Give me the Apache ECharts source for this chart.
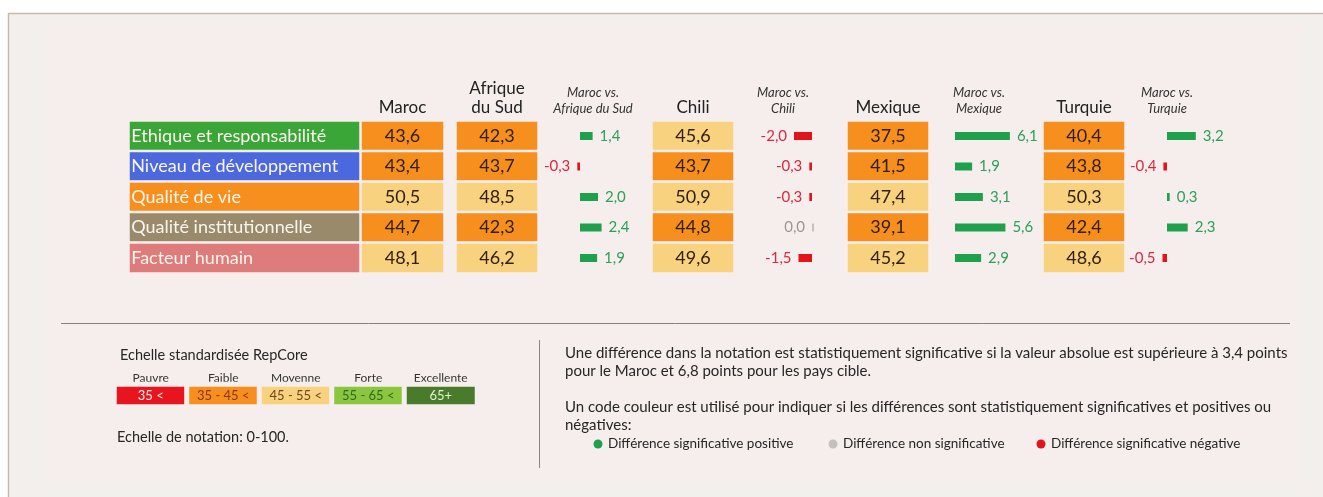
<!DOCTYPE html>
<html>
<head>
<meta charset="utf-8">
<script src="https://cdn.jsdelivr.net/npm/echarts@6/dist/echarts.min.js"></script>
<style>
  html, body { margin: 0; padding: 0; background: #fff; }
  #main { width: 1323px; height: 497px; }
</style>
</head>
<body>
<div id="main"></div>
<script>
// data
var metrics = ['Ethique et responsabilité', 'Niveau de développement', 'Qualité de vie', 'Qualité institutionnelle', 'Facteur humain'];
var countries = ['Maroc', 'Afrique du Sud', 'Chili', 'Mexique', 'Turquie'];
var maroc = [43.6, 43.4, 50.5, 44.7, 48.1];
var afriqueDuSud = [42.3, 43.7, 48.5, 42.3, 46.2];
var chili = [45.6, 43.7, 50.9, 44.8, 49.6];
var mexique = [37.5, 41.5, 47.4, 39.1, 45.2];
var turquie = [40.4, 43.8, 50.3, 42.4, 48.6];
var diffAfriqueDuSud = [1.4, -0.3, 2.0, 2.4, 1.9];
var diffChili = [-2.0, -0.3, -0.3, 0.0, -1.5];
var diffMexique = [6.1, 1.9, 3.1, 5.6, 2.9];
var diffTurquie = [3.2, -0.4, 0.3, 2.3, -0.5];
var scaleLabels = ['Pauvre', 'Faible', 'Moyenne', 'Forte', 'Excellente'];
var scaleRanges = ['35 <', '35 - 45 <', '45 - 55 <', '55 - 65 <', '65+'];
var scaleMins = [0, 35, 45, 55, 65];

// styles
var metricColors = ['#3aa638', '#4c68df', '#f78f1e', '#9a8a6c', '#de7b7b'];
var scaleTextColors = ['#fff4f0', '#8a3510', '#6e4a14', '#2f6a1c', '#e2f3d2'];
var font = 'Lato, "Open Sans", sans-serif';
var bg = '#f6eeed';
var green = '#1fa04d', red = '#e3131c', grey = '#c4c0be';

var chartDom = document.getElementById('main');
var myChart = echarts.init(chartDom);

var scores = [maroc, afriqueDuSud, chili, mexique, turquie];
var diffs = [diffAfriqueDuSud, diffChili, diffMexique, diffTurquie];

var rowTop = 120.75, rowHeight = 152.5;
var countryVis = [[362, 443], [457, 537], [653, 733], [848, 928], [1044, 1124]];
var diffZero = [580, 812, 955, 1167];
var diffHeaderX = [593, 783, 979, 1167];
var unitPx = 9, diffMin = -4, diffMax = 7;

function fr(v) { return v.toFixed(1).replace('.', ','); }

var grids = [], xAxes = [], yAxes = [], series = [], heatIdx = [];
function addGrid(g, x, y) {
  grids.push(g);
  x.gridIndex = grids.length - 1;
  y.gridIndex = grids.length - 1;
  xAxes.push(x);
  yAxes.push(y);
  return grids.length - 1;
}
function rowAxis() {
  return { type: 'category', data: metrics, inverse: true, show: false };
}

// metric labels column
var gi = addGrid({ left: 128.75, top: rowTop, width: 232.5, height: rowHeight },
  { type: 'category', data: [''], show: false }, rowAxis());
series.push({
  type: 'heatmap', xAxisIndex: gi, yAxisIndex: gi,
  data: metrics.map(function (m, i) { return { value: [0, i, 1], itemStyle: { color: metricColors[i] } }; }),
  itemStyle: { borderColor: bg, borderWidth: 2.5 },
  label: { show: true, position: 'insideLeft', distance: 4, formatter: function (p) { return metrics[p.dataIndex]; },
    color: '#fbf5ee', fontSize: 18, fontFamily: font },
  emphasis: { disabled: true }, silent: true
});

// country score columns
scores.forEach(function (vals, c) {
  var v0 = countryVis[c];
  var g = addGrid({ left: v0[0] - 1.25, top: rowTop, width: v0[1] - v0[0] + 2.5, height: rowHeight },
    { type: 'category', data: [countries[c]], position: 'top',
      axisLine: { show: false }, axisTick: { show: false },
      axisLabel: { margin: 4, fontSize: 17, color: '#222', fontFamily: font, lineHeight: 19,
        formatter: function (v) { return v.replace('Afrique ', 'Afrique\n'); } } },
    rowAxis());
  series.push({
    type: 'heatmap', name: countries[c], xAxisIndex: g, yAxisIndex: g,
    data: vals.map(function (v, i) { return [0, i, v]; }),
    itemStyle: { borderColor: bg, borderWidth: 2.5 },
    label: { show: true, formatter: function (p) { return fr(p.value[2]); }, fontSize: 18, color: '#2f2010', fontFamily: font },
    emphasis: { disabled: true }, silent: true
  });
  heatIdx.push(series.length - 1);
});

// Maroc vs. columns
diffs.forEach(function (vals, d) {
  var g = addGrid({ left: diffZero[d] + diffMin * unitPx, top: rowTop, width: (diffMax - diffMin) * unitPx, height: rowHeight },
    { type: 'value', min: diffMin, max: diffMax, show: false, splitLine: { show: false } },
    rowAxis());
  series.push({
    type: 'bar', xAxisIndex: g, yAxisIndex: g, barWidth: 8, barMinHeight: 2, silent: true,
    data: vals.map(function (v) {
      var col = v > 0 ? green : (v < 0 ? red : grey);
      var txt = v > 0 ? '#2c9f5a' : (v < 0 ? '#d92940' : '#9a9696');
      return { value: v, itemStyle: { color: col }, label: { position: v > 0 ? 'right' : 'left', color: txt } };
    }),
    label: { show: true, distance: 7, fontSize: 15, fontFamily: font, formatter: function (p) { return fr(p.value); } }
  });
});

// colour scale
var sg = addGrid({ left: 114.5, top: 384.5, width: 362.5, height: 22 },
  { type: 'category', data: scaleLabels, position: 'top', axisLine: { show: false }, axisTick: { show: false },
    axisLabel: { margin: 0, fontSize: 12, color: '#333', fontFamily: font, interval: 0 } },
  { type: 'category', data: [''], show: false });
series.push({
  type: 'heatmap', xAxisIndex: sg, yAxisIndex: sg,
  data: scaleMins.map(function (v, i) { return { value: [i, 0, v], label: { color: scaleTextColors[i] } }; }),
  itemStyle: { borderColor: bg, borderWidth: 5 },
  label: { show: true, fontSize: 13, fontFamily: font, formatter: function (p) { return scaleRanges[p.dataIndex]; } },
  emphasis: { disabled: true }, silent: true
});
heatIdx.push(series.length - 1);

function txt(text, x, y, size, extra) {
  var s = { text: text, x: x, y: y, fontSize: size, fontFamily: font, fill: '#262626', verticalAlign: 'middle', align: 'left' };
  for (var k in extra) s[k] = extra[k];
  return { type: 'text', style: s };
}

var graphics = [
  { type: 'rect', z: -10, shape: { x: 8.5, y: 13.5, width: 1340, height: 500 }, style: { fill: '#f3efec', stroke: '#c4bba8', lineWidth: 1.5 } },
  { type: 'rect', z: -9, shape: { x: 45, y: 25, width: 1257, height: 460 }, style: { fill: bg } },
  { type: 'line', shape: { x1: 61, y1: 323.5, x2: 1290, y2: 323.5 }, style: { stroke: '#858180', lineWidth: 1 } },
  { type: 'line', shape: { x1: 539.5, y1: 340, x2: 539.5, y2: 468 }, style: { stroke: '#8a8583', lineWidth: 1 } },
  txt('Echelle standardisée RepCore', 120, 355, 14.5),
  txt('Echelle de notation: 0-100.', 117, 437, 14.5),
  txt('Une différence dans la notation est statistiquement significative si la valeur absolue est supérieure à 3,4 points', 565, 353, 15),
  txt('pour le Maroc et 6,8 points pour les pays cible.', 565, 371, 15),
  txt('Un code couleur est utilisé pour indiquer si les différences sont statistiquement significatives et positives ou', 565, 407, 15),
  txt('négatives:', 565, 425, 15),
  { type: 'circle', shape: { cx: 598, cy: 444, r: 4.5 }, style: { fill: green } },
  txt('Différence significative positive', 608, 444, 13.5),
  { type: 'circle', shape: { cx: 833, cy: 444, r: 4.5 }, style: { fill: grey } },
  txt('Différence non significative', 843, 444, 13.5),
  { type: 'circle', shape: { cx: 1041, cy: 444, r: 4.5 }, style: { fill: red } },
  txt('Différence significative négative', 1051, 444, 13.5)
];
countries.slice(1).forEach(function (c, d) {
  graphics.push(txt('Maroc vs.', diffHeaderX[d], 93, 13, { align: 'center', fontStyle: 'italic', fill: '#333' }));
  graphics.push(txt(c, diffHeaderX[d], 109, 13, { align: 'center', fontStyle: 'italic', fill: '#333' }));
});

var option = {
  backgroundColor: '#ffffff',
  animation: false,
  grid: grids,
  xAxis: xAxes,
  yAxis: yAxes,
  visualMap: {
    type: 'piecewise', show: false, seriesIndex: heatIdx, dimension: 2,
    pieces: [
      { lt: 35, color: '#e8141e' },
      { gte: 35, lt: 45, color: '#f78f1e' },
      { gte: 45, lt: 55, color: '#f9d27f' },
      { gte: 55, lt: 65, color: '#8cc63f' },
      { gte: 65, color: '#4a7b2c' }
    ]
  },
  graphic: graphics,
  series: series
};

option && myChart.setOption(option);
</script>
</body>
</html>
